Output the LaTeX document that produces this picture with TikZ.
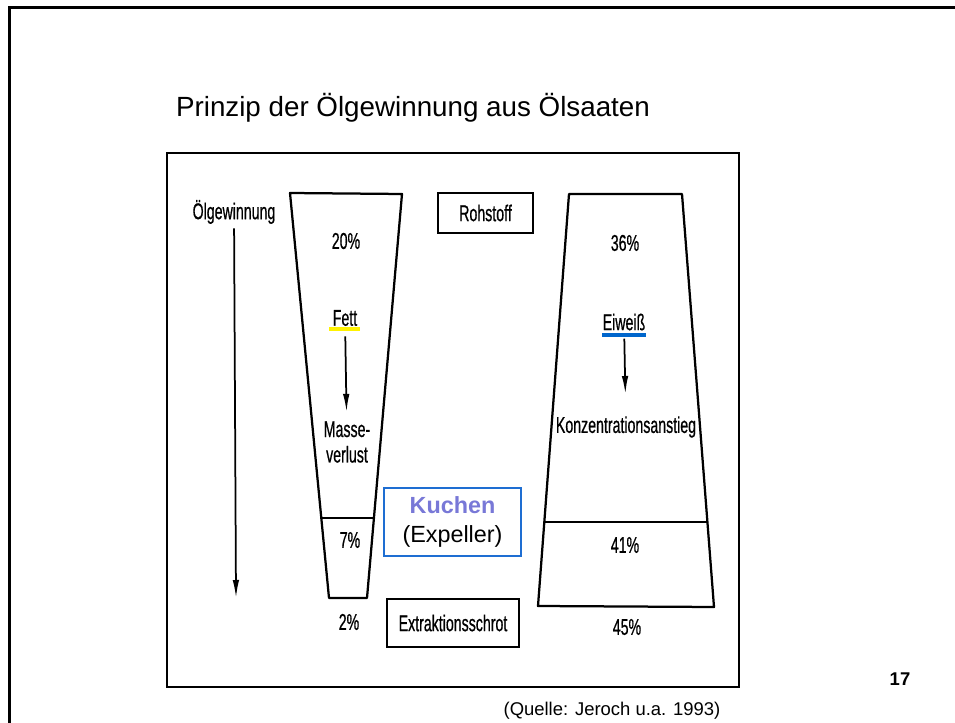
\documentclass[tikz,border=0pt]{standalone}
\usepackage{fontspec}
\setmainfont{Liberation Sans}
\newfontfamily\scanfont[FakeStretch=0.62,FakeBold=0.6]{Liberation Sans}
\usetikzlibrary{arrows.meta}
\definecolor{kuchenblau}{RGB}{120,120,215}
\definecolor{rahmenblau}{RGB}{30,110,210}
\definecolor{eiweissblau}{RGB}{0,102,204}
\tikzset{
    SC/.style ={font=\scanfont\fontsize{13}{14.5}\selectfont, inner sep=0pt, align=center},
    RA1/.style ={rectangle, draw, line width=0.4mm, inner sep=0pt, font=\scanfont\fontsize{13}{14.5}\selectfont},
    RA2/.style ={rectangle, draw=rahmenblau, line width=0.3mm, align=center, font=\fontsize{13.3}{16}\selectfont},
    AR/.style ={-{Latex[length=3.6mm,width=1.3mm]}, line width=0.35mm},
    LN/.style ={line width=0.45mm, line join=round},
    UL/.style ={line width=0.8mm}}

\begin{document}
\begin{tikzpicture}[x=0.2mm,y=-0.2mm]
        \useasboundingbox (0,0) rectangle (955,723);
        \draw[line width=0.6mm] (9,723) -- (9,8) -- (955,8);
        \node (0) at (413,108) {\fontsize{15.8}{18}\selectfont Prinzip der Ölgewinnung aus Ölsaaten};
        \draw[line width=0.5mm] (167,153) rectangle (739,687);
        \draw[LN] (290,193) -- (402,194) -- (367,598) -- (329,598) -- cycle;
        \draw[LN] (321,518) -- (374,518);
        \draw[LN] (569,194) -- (682,194) -- (714,607) -- (538,606) -- cycle;
        \draw[LN] (544,522) -- (707,522);
        \node[SC] (1) at (234,212){Ölgewinnung};
        \coordinate (1e) at (236,598);
        \node[SC] (2) at (346,241){20\%};
        \node[SC] (3) at (345,318){Fett};
        \node[SC] (4) at (347,442){Masse-\\verlust};
        \node[SC] (5) at (350,540){7\%};
        \node[SC] (6) at (349,622){2\%};
        \node[RA1, minimum width=19mm, minimum height=8mm] (7) at (485.5,213){Rohstoff};
        \node[RA1, minimum width=26.4mm, minimum height=9.6mm] (8) at (453,623){Extraktionsschrot};
        \node[RA2, minimum width=27.4mm, minimum height=13.6mm] (9) at (452.5,522){\textbf{\textcolor{kuchenblau}{Kuchen}}\\(Expeller)};
        \node[SC] (10) at (625,243){36\%};
        \node[SC] (11) at (624,322){Eiweiß};
        \node[SC] (12) at (626,427){Konzentrationsanstieg};
        \node[SC] (13) at (625,545){41\%};
        \node[SC] (14) at (627,627){45\%};
        \node (15) at (900,679){\fontsize{10.5}{12}\selectfont\bfseries 17};
        \node (16) at (612,711){\fontsize{10.5}{12}\selectfont (Quelle: Jeroch u.a. 1993)};
        \draw[AR, shorten <=0.8mm] (1) -- (1e);
        \draw[AR, shorten <=2mm, shorten >=1.8mm] (3) -- (4);
        \draw[AR, shorten <=1.6mm, shorten >=4.4mm] (11) -- (12);
        \draw[UL, yellow] ([xshift=-0.6mm,yshift=-0.5mm]3.south west) -- ([xshift=0.4mm,yshift=-0.5mm]3.south east);
        \draw[UL, eiweissblau] ([yshift=-0.9mm]11.south west) -- ([yshift=-0.9mm]11.south east);
    \end{tikzpicture}
\end{document}
